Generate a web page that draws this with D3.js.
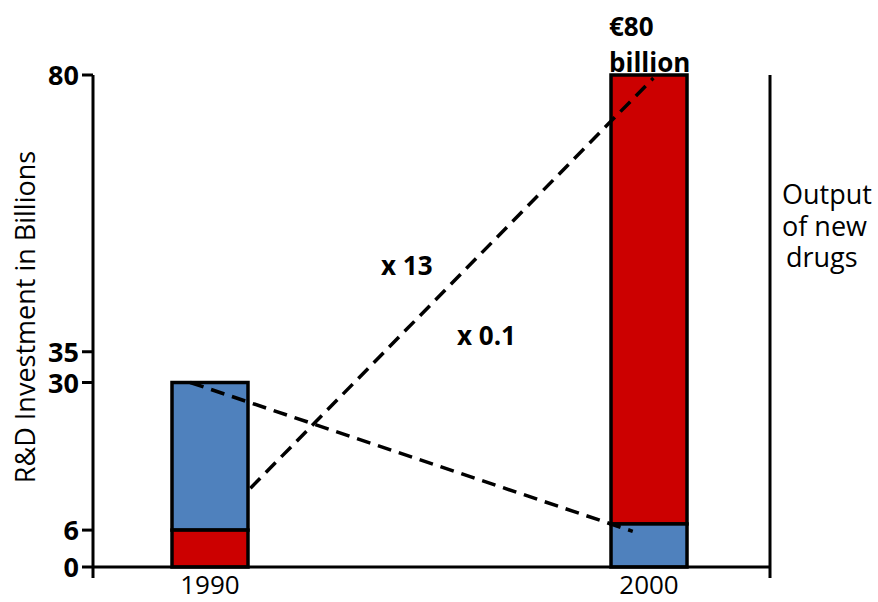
<!DOCTYPE html>
<html><head><meta charset="utf-8">
<script src="https://cdn.jsdelivr.net/npm/d3@7"></script>
<style>body{margin:0;background:#fff}svg{display:block}text{font-family:"Open Sans",sans-serif}</style>
</head><body><svg id="c" width="878" height="602"></svg>
<script>
const years = [1990, 2000];
const redValues = [6, 80];
const blueValues = [30, 7];
const yTicks = [0, 6, 30, 35, 80];
const annotations = [
  {label: "x 13", from: [1990.92, 12.8], to: [2000.1, 79.5]},
  {label: "x 0.1", from: [1989.55, 30], to: [1999.63, 5.8]}
];

const svg = d3.select("#c");
const x = d3.scaleLinear().domain([1987.335, 2002.756]).range([93, 770]);
const y = d3.scaleLinear().domain([0, 80]).range([567, 75]);
const barW = 76;

// bars
years.forEach((yr, i) => {
  const cx = x(yr);
  const lowIsRed = redValues[i] < blueValues[i];
  const low = Math.min(redValues[i], blueValues[i]);
  const high = Math.max(redValues[i], blueValues[i]);
  svg.append("rect").attr("x", cx - barW/2).attr("width", barW)
    .attr("y", y(high)).attr("height", y(low) - y(high))
    .attr("fill", lowIsRed ? "#4F81BD" : "#CC0000").attr("stroke", "#000").attr("stroke-width", 3.5);
  svg.append("rect").attr("x", cx - barW/2).attr("width", barW)
    .attr("y", y(low)).attr("height", y(0) - y(low))
    .attr("fill", lowIsRed ? "#CC0000" : "#4F81BD").attr("stroke", "#000").attr("stroke-width", 3.5);
});

// axes
svg.append("line").attr("x1", 93).attr("x2", 93).attr("y1", y(80)).attr("y2", 578).attr("stroke", "#000").attr("stroke-width", 3);
svg.append("line").attr("x1", 93).attr("x2", 770).attr("y1", y(0)).attr("y2", y(0)).attr("stroke", "#000").attr("stroke-width", 3);
svg.append("line").attr("x1", 770).attr("x2", 770).attr("y1", y(80)).attr("y2", 578).attr("stroke", "#000").attr("stroke-width", 3);

yTicks.forEach(t => {
  svg.append("line").attr("x1", 82).attr("x2", 93).attr("y1", y(t)).attr("y2", y(t)).attr("stroke", "#000").attr("stroke-width", 3);
  svg.append("text").attr("x", 79).attr("y", y(t) + 10).attr("text-anchor", "end")
    .attr("font-size", 27).attr("font-weight", "bold").text(t);
});

years.forEach(yr => {
  svg.append("text").attr("x", x(yr)).attr("y", 594).attr("text-anchor", "middle")
    .attr("font-size", 26).text(yr);
});

// annotations
annotations.forEach(a => {
  svg.append("line").attr("x1", x(a.from[0])).attr("y1", y(a.from[1]))
    .attr("x2", x(a.to[0])).attr("y2", y(a.to[1]))
    .attr("stroke", "#000").attr("stroke-width", 3.5).attr("stroke-dasharray", "14,8");
});
svg.append("text").attr("x", 381).attr("y", 275).attr("font-size", 26).attr("font-weight", "bold").text(annotations[0].label);
svg.append("text").attr("x", 457).attr("y", 345).attr("font-size", 26).attr("font-weight", "bold").text(annotations[1].label);

svg.append("text").attr("x", 609).attr("y", 36).attr("font-size", 26).attr("font-weight", "bold").text("€80");
svg.append("text").attr("x", 609).attr("y", 72).attr("font-size", 26).attr("font-weight", "bold").text("billion");

svg.append("text").attr("transform", "translate(35,317) rotate(-90)").attr("text-anchor", "middle")
  .attr("font-size", 27).text("R&D Investment in Billions");

[["Output", 782, 204], ["of new", 782, 236], ["drugs", 786, 267]].forEach(([t, tx, ty]) => {
  svg.append("text").attr("x", tx).attr("y", ty).attr("font-size", 27).text(t);
});
</script></body></html>
